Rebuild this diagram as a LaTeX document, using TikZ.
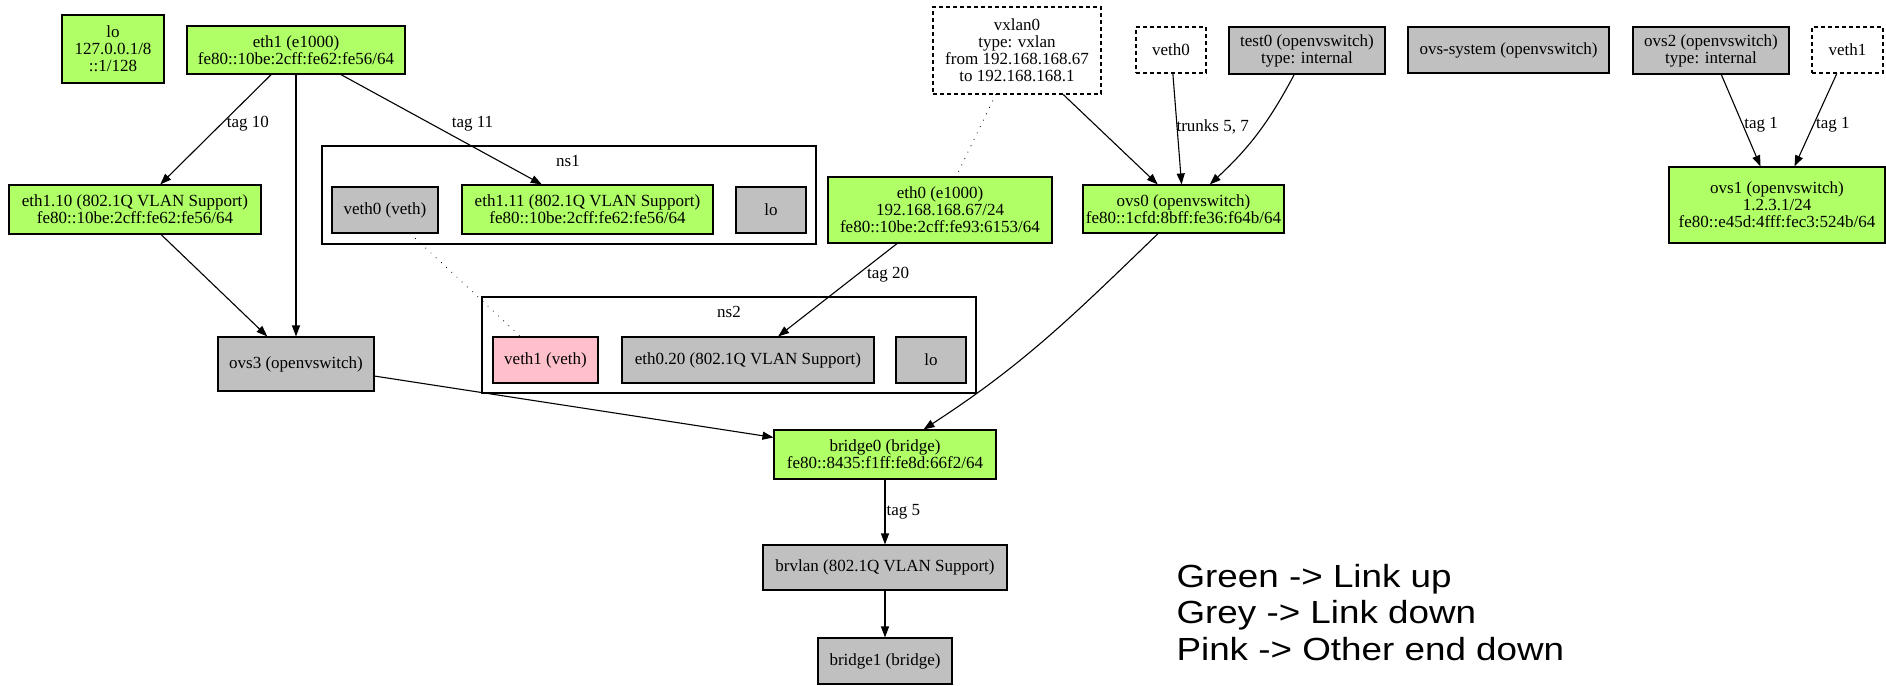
\documentclass[tikz,border=0pt]{standalone}
\usepackage{fontspec}
\setmainfont{Liberation Serif}
\newfontfamily\legendfont[FakeStretch=1.15]{Liberation Sans}
\usetikzlibrary{arrows.meta}
\definecolor{linkup}{RGB}{176,255,102}
\definecolor{linkdown}{RGB}{192,192,192}
\definecolor{otherdown}{RGB}{255,192,203}

\begin{document}
\begin{tikzpicture}[x=1pt, y=1pt, line width=1.1pt,
    >={Triangle[length=11pt,width=8pt]},
    iface/.style={draw, rectangle, inner sep=0pt, align=center, font=\fontsize{17}{17}\selectfont},
    upbox/.style={iface, fill=linkup},
    downbox/.style={iface, fill=linkdown},
    pinkbox/.style={iface, fill=otherdown},
    ghostbox/.style={iface, dash pattern=on 4pt off 3pt},
    nsbox/.style={draw, rectangle, inner sep=0pt},
    nsname/.style={inner sep=0pt, font=\fontsize{17}{17}\selectfont},
    taglabel/.style={anchor=west, inner sep=1pt, font=\fontsize{17}{17}\selectfont},
    dotline/.style={dash pattern=on 0.1pt off 7pt, line cap=round},
    legend/.style={anchor=base west, inner sep=0pt, font=\legendfont\fontsize{32}{32}\selectfont}]
            \useasboundingbox (0,0) rectangle (1886,-685);

            % namespaces
            \node[nsbox, minimum width=494, minimum height=98] (ns1) at (569,-195) {};
            \node[nsname] (ns1name) at (568,-161) {ns1};
            \node[nsbox, minimum width=494, minimum height=96] (ns2) at (729,-345) {};
            \node[nsname] (ns2name) at (729,-312) {ns2};

            % interfaces
            \node[upbox, minimum width=102, minimum height=68] (lo) at (113,-49) {lo\\127.0.0.1/8\\::1/128};
            \node[upbox, minimum width=218, minimum height=48] (eth1) at (296,-50) {eth1 (e1000)\\fe80::10be:2cff:fe62:fe56/64};
            \node[upbox, minimum width=252, minimum height=49] (eth110) at (135,-209.5) {eth1.10 (802.1Q VLAN Support)\\fe80::10be:2cff:fe62:fe56/64};
            \node[downbox, minimum width=106, minimum height=46] (veth0v) at (385,-210) {veth0 (veth)};
            \node[upbox, minimum width=251, minimum height=49] (eth111) at (587.5,-209.5) {eth1.11 (802.1Q VLAN Support)\\fe80::10be:2cff:fe62:fe56/64};
            \node[downbox, minimum width=70, minimum height=46] (lo1) at (771,-210) {lo};
            \node[ghostbox, minimum width=168, minimum height=87] (vxlan0) at (1017,-50.5) {vxlan0\\type: vxlan\\from 192.168.168.67\\to 192.168.168.1};
            \node[ghostbox, minimum width=70, minimum height=46] (veth0) at (1171,-50) {veth0};
            \node[downbox, minimum width=156, minimum height=47] (test0) at (1307,-50.5) {test0 (openvswitch)\\type: internal};
            \node[downbox, minimum width=201, minimum height=46] (ovssys) at (1508.5,-50) {ovs-system (openvswitch)};
            \node[downbox, minimum width=156, minimum height=47] (ovs2) at (1711,-50.5) {ovs2 (openvswitch)\\type: internal};
            \node[ghostbox, minimum width=71, minimum height=46] (veth1) at (1847.5,-50) {veth1};
            \node[upbox, minimum width=224, minimum height=66] (eth0) at (940,-210) {eth0 (e1000)\\192.168.168.67/24\\fe80::10be:2cff:fe93:6153/64};
            \node[upbox, minimum width=201, minimum height=48] (ovs0) at (1183.5,-209) {ovs0 (openvswitch)\\fe80::1cfd:8bff:fe36:f64b/64};
            \node[upbox, minimum width=216, minimum height=76] (ovs1) at (1777,-205) {ovs1 (openvswitch)\\1.2.3.1/24\\fe80::e45d:4fff:fec3:524b/64};
            \node[pinkbox, minimum width=105, minimum height=46] (veth1v) at (545.5,-360) {veth1 (veth)};
            \node[downbox, minimum width=252, minimum height=46] (eth020) at (748,-360) {eth0.20 (802.1Q VLAN Support)};
            \node[downbox, minimum width=70, minimum height=46] (lo2) at (931,-360) {lo};
            \node[downbox, minimum width=156, minimum height=54] (ovs3) at (296,-364) {ovs3 (openvswitch)};
            \node[upbox, minimum width=222, minimum height=49] (bridge0) at (885,-454.5) {bridge0 (bridge)\\fe80::8435:f1ff:fe8d:66f2/64};
            \node[downbox, minimum width=244, minimum height=45] (brvlan) at (885,-567.5) {brvlan (802.1Q VLAN Support)};
            \node[downbox, minimum width=134, minimum height=46] (bridge1) at (885,-661) {bridge1 (bridge)};

            % links
            \draw[->] (eth1) -- (eth110) node[taglabel, pos=.45, xshift=4pt] (tag10) {tag 10};
            \draw[->] (eth1) -- (ovs3);
            \draw[->] (eth1) -- (eth111) node[taglabel, pos=.45, xshift=19pt] (tag11) {tag 11};
            \draw[->] (eth110) -- (ovs3);
            \draw[->] (ovs3) -- (bridge0);
            \draw[dotline] (veth0v) -- (veth1v);
            \draw[dotline] (vxlan0) -- (eth0);
            \draw[->] (vxlan0) -- (ovs0);
            \draw[->] (veth0) -- (ovs0) node[taglabel, pos=.48, xshift=-2pt] (trunks) {trunks 5, 7};
            \draw[->] (test0) to[out=-118, in=43] (ovs0);
            \draw[->] (ovs0) to[out=-136, in=33] (bridge0);
            \draw[->] (eth0) -- (eth020) node[taglabel, pos=.34, xshift=9pt] (tag20) {tag 20};
            \draw[->] (ovs2) -- (ovs1) node[taglabel, pos=.55] (tag1a) {tag 1};
            \draw[->] (veth1) -- (ovs1) node[taglabel, pos=.55, xshift=1pt] (tag1b) {tag 1};
            \draw[->] (bridge0) -- (brvlan) node[taglabel, pos=.5] (tag5) {tag 5};
            \draw[->] (brvlan) -- (bridge1);

            % legend
            \node[legend] (legup) at (1176,-587) {Green -> Link up};
            \node[legend] (legdown) at (1176,-623) {Grey -> Link down};
            \node[legend] (legpink) at (1176,-660) {Pink -> Other end down};
        \end{tikzpicture}
\end{document}
